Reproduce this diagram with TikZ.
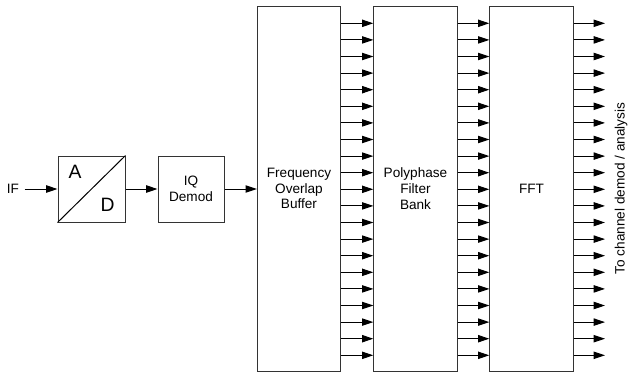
\documentclass[tikz,border=0pt]{standalone}
\usepackage{fontspec}
\setmainfont{Liberation Sans}
\usetikzlibrary{arrows.meta,positioning}

\begin{document}
\begin{tikzpicture}[
    x=0.75pt, y=-0.75pt,
    block/.style={rectangle, draw=black!80, line width=0.75pt, fill=white,
                  font=\fontsize{10.2}{11.8}\selectfont, align=center, inner sep=0pt},
    tall/.style={block, minimum width=62.5pt, minimum height=273.75pt},
    arrow/.style={-{Triangle[length=8.5pt,width=5.5pt]}, line width=0.75pt}
]
\useasboundingbox (0,0) rectangle (628,375);

% Front end
\node[font=\fontsize{10.2}{11.8}\selectfont, inner sep=4pt] (if) at (13,189) {IF};
\node[block, minimum width=50.25pt, minimum height=49.5pt] (ad) at (91.5,189) {};
\node[block, minimum width=49.5pt, minimum height=49.5pt] (iq) at (191,189) {IQ\\Demod};
\draw[line width=0.75pt] (ad.south west) -- (ad.north east);
\node[font=\fontsize{14.5}{16}\selectfont] (adA) at (75,172) {A};
\node[font=\fontsize{14.5}{16}\selectfont] (adD) at (107.5,205) {D};

% Channeliser
\node[tall] (fob) at (299,188.5) {Frequency\\Overlap\\Buffer};
\node[tall] (pfb) at (415.5,188.5) {Polyphase\\Filter\\Bank};
\node[tall] (fft) at (531.5,188.5) {FFT};

% Arrows
\draw[arrow] (if) -- (ad);
\draw[arrow] (ad) -- (iq);
\draw[arrow] (iq.east) -- (fob.west |- iq.east);

\foreach \k in {0,...,20}{
  \pgfmathsetmacro{\yy}{23.3+16.6*\k}
  \coordinate (out\k) at (605,\yy);
  \draw[arrow] (fob.east |- out\k) -- (pfb.west |- out\k);
  \draw[arrow] (pfb.east |- out\k) -- (fft.west |- out\k);
  \draw[arrow] (fft.east |- out\k) -- (out\k);
}

% Output
\node[rotate=90, font=\fontsize{10.2}{11.8}\selectfont] (dest) at (621,188.5) {To channel demod / analysis};

\end{tikzpicture}
\end{document}
